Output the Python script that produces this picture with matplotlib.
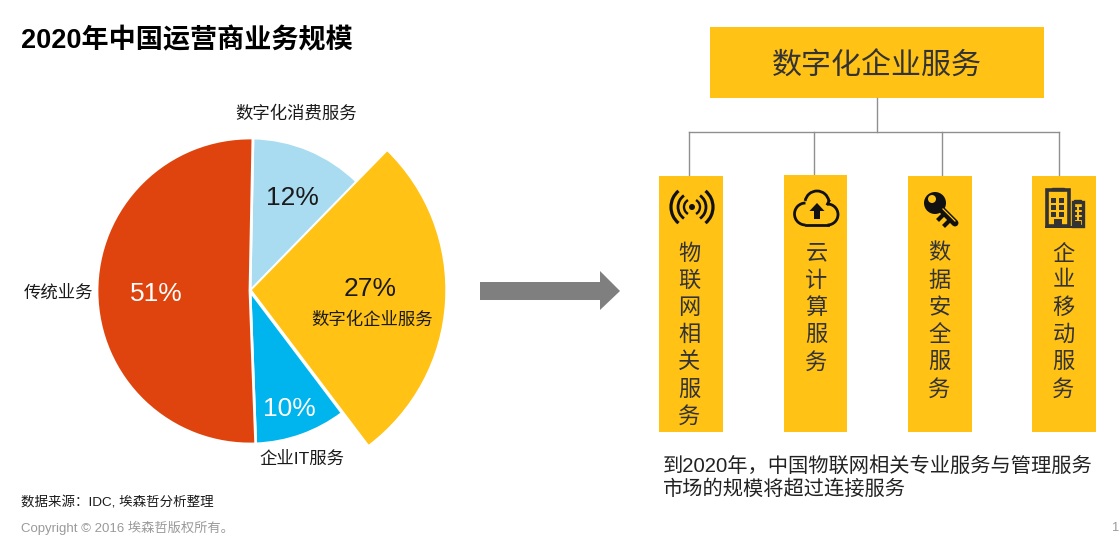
import matplotlib
matplotlib.use("Agg")
import matplotlib.pyplot as plt
from matplotlib.patches import Rectangle, Polygon, Circle, Arc

FONT = ['Liberation Sans', 'Noto Sans CJK SC', 'DejaVu Sans']
plt.rcParams['font.family'] = FONT

W, H = 1120, 546
TITLE = "2020年中国运营商业务规模"
segments = ["数字化消费服务", "数字化企业服务", "企业IT服务", "传统业务"]
shares = [12, 27.4, 9.7, 50.9]
share_labels = ["12%", "27%", "10%", "51%"]
colors = ["#A9DCF0", "#FFC215", "#00B5EE", "#E0440E"]
parent = "数字化企业服务"
children = ["物联网相关服务", "云计算服务", "数据安全服务", "企业移动服务"]
note_lines = ["到2020年，中国物联网相关专业服务与管理服务", "市场的规模将超过连接服务"]
source = "数据来源：IDC, 埃森哲分析整理"
copyright_text = "Copyright © 2016 埃森哲版权所有。"

YEL = "#FFC215"
INK = "#1a1a1a"
LINE = "#8f8f8f"


def Y(py):
    return H - py


fig = plt.figure(figsize=(W / 100, H / 100), dpi=100)
ax = fig.add_axes([0, 0, 1, 1])

wedges, _ = ax.pie(shares, colors=colors, startangle=88.9, counterclock=False,
                   center=(250, Y(291)), radius=153, frame=True,
                   wedgeprops=dict(edgecolor="white", linewidth=2))
wedges[1].set_radius(195)
wedges[1].set_center((251, Y(290)))
wedges[1].set_linewidth(1)
ax.set_xlim(0, W)
ax.set_ylim(0, H)
ax.set_aspect("equal")
ax.axis("off")


def T(x, y, s, size, color=INK, ha="center", va="center", **kw):
    return ax.text(x, Y(y + 2), s, fontsize=size, color=color, ha=ha, va=va, **kw)


T(21, 39, TITLE, 19.5, color="black", ha="left", fontweight="bold")

T(296.5, 111, segments[0], 12.5)
T(372, 318, segments[1], 12.5)
T(301.5, 457, segments[2], 12.5)
T(58, 291, segments[3], 12.5)
T(292, 196, share_labels[0], 19)
T(370, 287, share_labels[1], 19)
T(289, 407, share_labels[2], 19, color="white")
T(156, 292, share_labels[3], 19, color="white")

T(21, 501, source, 9.7, ha="left")
T(21, 526, copyright_text, 9.55, color="#9a9a9a", ha="left")
T(1112, 526, "1", 9.2, color="#9a9a9a", ha="left")

# arrow
ax.add_patch(Polygon([(480, Y(282)), (600, Y(282)), (600, Y(271)), (620, Y(291)),
                      (600, Y(310)), (600, Y(300)), (480, Y(300))],
                     closed=True, fc="#7f7f7f", ec="none"))

# org tree
ax.add_patch(Rectangle((710, Y(98)), 334, 71, fc=YEL, ec="none"))
T(877, 63 + 2, parent, 21.6, color="#333333", zorder=3)
ax.plot([877, 877], [Y(98), Y(132)], color=LINE, lw=1)
ax.plot([689, 1059], [Y(132), Y(132)], color=LINE, lw=1)

box_left = [659, 784, 908, 1032]
box_wid = [64, 63, 64, 64]
box_top = [176, 175, 176, 176]
drop_x = [689, 814, 942, 1059]
text_x = [689.5, 816.5, 939.5, 1063.5]
for bx, bw, bt, dx, tx, name in zip(box_left, box_wid, box_top, drop_x, text_x, children):
    ax.plot([dx, dx], [Y(132), Y(bt)], color=LINE, lw=1)
    ax.add_patch(Rectangle((bx, Y(432)), bw, 432 - bt, fc=YEL, ec="none", zorder=2))
    for i, ch in enumerate(name):
        T(tx, 252 + i * 27.2, ch, 16, color="#333333", zorder=3)

K = "#111111"
Z = dict(zorder=4)
# wireless icon
cx, cy = 692, Y(207)
ax.add_patch(Circle((cx, cy), 3, fc=K, ec="none", **Z))
for d, span, lw in [(16, 60, 1.7), (28, 55, 2.0), (42, 50, 2.3)]:
    ax.add_patch(Arc((cx, cy), d, d, theta1=-span, theta2=span, color=K, lw=lw, **Z))
    ax.add_patch(Arc((cx, cy), d, d, theta1=180 - span, theta2=180 + span, color=K, lw=lw, **Z))

# cloud icon
ax.add_patch(Arc((805.5, Y(214)), 22, 22, theta1=90, theta2=270, color=K, lw=2, **Z))
ax.add_patch(Arc((817, Y(203)), 24, 24, theta1=10, theta2=170, color=K, lw=2, **Z))
ax.add_patch(Arc((827.5, Y(214.5)), 21, 21, theta1=-90, theta2=90, color=K, lw=2, **Z))
ax.plot([805.5, 827.5], [Y(225), Y(225)], color=K, lw=2, **Z)
ax.plot([829, 827.5], [Y(201), Y(204)], color=K, lw=2, **Z)
ax.add_patch(Polygon([(817, Y(203)), (824.5, Y(211)), (820, Y(211)), (820, Y(219)),
                      (814, Y(219)), (814, Y(211)), (809.5, Y(211))],
                     closed=True, fc=K, ec="none", **Z))

# key icon
ax.add_patch(Circle((935, Y(203)), 11, fc=K, ec="none", **Z))
ax.add_patch(Circle((932, Y(199)), 4, fc=YEL, ec="none", zorder=5))
ax.plot([941, 955], [Y(209), Y(223)], color=K, lw=5, solid_capstyle="round", **Z)
ax.plot([943, 955], [Y(209), Y(221)], color=YEL, lw=0.9, zorder=5)
ax.plot([943, 939], [Y(215), Y(219)], color=K, lw=3, **Z)
ax.plot([949, 945], [Y(221), Y(225)], color=K, lw=3, **Z)

# buildings icon
D = "#333333"
ax.add_patch(Rectangle((1047, Y(226)), 22, 36, fc=YEL, ec=D, lw=2.6, **Z))
ax.add_patch(Rectangle((1052, Y(190)), 12, 2.5, fc=D, ec=D, lw=1, **Z))
ax.add_patch(Rectangle((1072.5, Y(226)), 10, 24, fc=YEL, ec=D, lw=2.4, **Z))
ax.add_patch(Rectangle((1074, Y(202)), 7, 2.5, fc=D, ec=D, lw=1, **Z))
ax.add_patch(Rectangle((1045, Y(227.5)), 39, 2, fc=D, ec="none", **Z))
for r in range(3):
    for c in range(2):
        ax.add_patch(Rectangle((1051 + c * 8, Y(203 + r * 7)), 4.5, 5, fc=D, ec="none", **Z))
        ax.add_patch(Rectangle((1074 + c * 4.6, Y(210 + r * 5)), 3, 3.4, fc=D, ec="none", **Z))
ax.add_patch(Rectangle((1054, Y(226)), 8, 7, fc=D, ec="none", **Z))
ax.add_patch(Rectangle((1075, Y(226)), 5.5, 5, fc=D, ec="none", **Z))

T(663, 464, note_lines[0], 14.6, ha="left", color="#222222")
T(663, 487, note_lines[1], 14.6, ha="left", color="#222222")

fig.savefig("out.png", dpi=100, facecolor="white")
